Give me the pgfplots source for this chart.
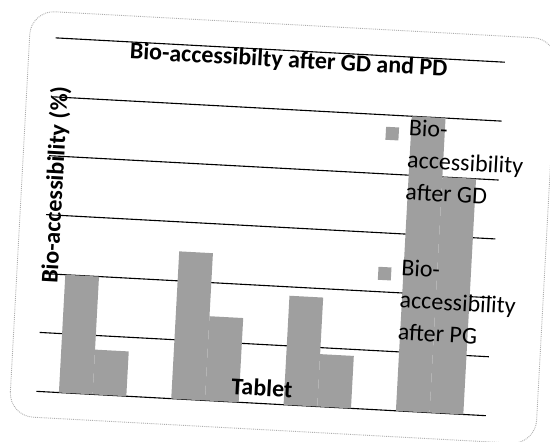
\documentclass[border=0pt]{standalone}
\usepackage{fontspec}
\setmainfont{Carlito}
\usepackage{pgfplots}
\pgfplotsset{compat=1.18}
\pgfplotstableread{
x  gd    pg
0.5 20.0  7.6
1.5 25.0  14.3
2.5 18.5  8.9
3.5 50.0  40.0
}\bioData
\begin{document}
\begin{tikzpicture}[x=1pt,y=1pt]
\useasboundingbox (0,0) rectangle (550,442);
\begin{scope}[transform canvas={rotate around={-3.1:(275,221)}}]
\draw[gray!65, line width=0.9pt, densely dotted, rounded corners=24pt] (20,12) rectangle (547,418);
\begin{axis}[
  at={(46pt,38pt)}, anchor=south west,
  scale only axis, width=450pt, height=354pt,
  xmin=0, xmax=4, ymin=0, ymax=60,
  ytick={0,10,...,60}, xtick=\empty,
  yticklabels={}, major tick length=0pt,
  ymajorgrids, grid style={black, line width=1.1pt},
  axis line style={draw=none},
  font=\fontsize{24}{29}\selectfont,
  ybar, bar width=0.3,
  title={Bio-accessibilty after GD and PD},
  title style={at={(axis description cs:0.52,1)}, anchor=north, yshift=-6pt, inner sep=0pt, font=\bfseries\fontsize{24}{29}\selectfont},
  xlabel={Tablet},
  xlabel style={at={(axis description cs:0.50,0.045)}, anchor=center, inner sep=0pt, font=\bfseries\fontsize{24}{29}\selectfont},
  ylabel={Bio-accessibility (\%)},
  ylabel style={at={(axis description cs:0.018,0.585)}, anchor=center, inner sep=0pt, font=\bfseries\fontsize{24}{29}\selectfont},
  legend style={draw=none, fill=none, at={(axis description cs:0.737,0.837)}, anchor=north west,
    font=\fontsize{24}{32}\selectfont, cells={align=left, anchor=north west}, row sep=54pt, column sep=8pt},
  legend image code/.code={\fill[#1, draw=none] (0pt,-11pt) rectangle (13pt,-24pt);},
]
\addplot[fill=gray!75, draw=none, bar shift=-0.15] table[x=x, y=gd] {\bioData};
\addlegendentry{Bio-\\accessibility\\after GD}
\addplot[fill=gray!75, draw=none, bar shift=0.15] table[x=x, y=pg] {\bioData};
\addlegendentry{Bio-\\accessibility\\after PG}
\end{axis}
\end{scope}
\end{tikzpicture}
\end{document}
